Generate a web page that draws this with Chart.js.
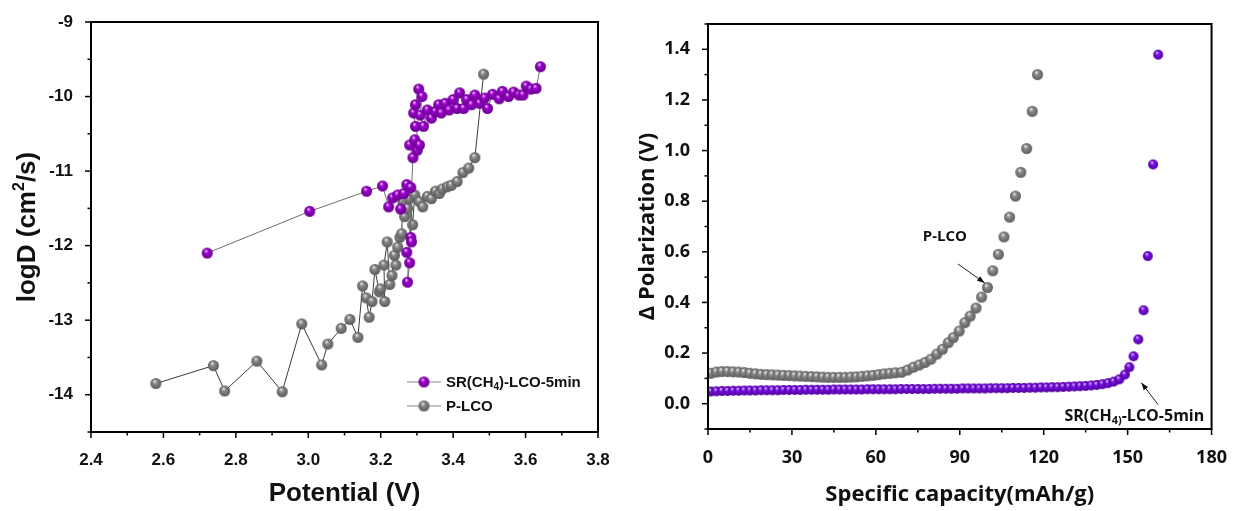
<!DOCTYPE html>
<html>
<head>
<meta charset="utf-8">
<script src="https://cdn.jsdelivr.net/npm/chart.js@4.4.0/dist/chart.umd.min.js"></script>
<style>
  body { margin: 0; background: #fff; width: 1237px; height: 511px; position: relative; overflow: hidden; }
  canvas { position: absolute; top: 0; }
  #diffChart { left: 0; }
  #polChart { left: 620px; }
</style>
</head>
<body>
<canvas id="diffChart" width="620" height="511"></canvas>
<canvas id="polChart" width="617" height="511"></canvas>
<script>
// ---- left panel: logD vs potential ----
var srPotential = [2.721, 3.004, 3.161, 3.205, 3.222, 3.233, 3.247, 3.255, 3.264, 3.272, 3.283,
    3.283, 3.285, 3.272, 3.280, 3.274, 3.289, 3.280, 3.294, 3.301, 3.307, 3.296, 3.291, 3.296,
    3.305, 3.314, 3.309, 3.318, 3.329, 3.340, 3.351, 3.360, 3.367, 3.378, 3.389, 3.400, 3.411,
    3.418, 3.429, 3.438, 3.451, 3.460, 3.473, 3.487, 3.495, 3.509, 3.527, 3.536, 3.553, 3.567,
    3.582, 3.593, 3.602, 3.615, 3.629, 3.641];
var srLogD = [-12.10, -11.54, -11.27, -11.20, -11.48, -11.36, -11.32, -11.51, -11.30, -11.18, -11.22,
    -11.89, -11.95, -12.09, -12.23, -12.49, -10.82, -10.65, -10.58, -10.72, -10.65, -10.40, -10.22, -10.11,
    -9.90, -10.00, -10.25, -10.40, -10.18, -10.29, -10.20, -10.11, -10.22, -10.09, -10.18, -10.04, -10.16,
    -9.95, -10.16, -10.04, -10.11, -9.98, -10.09, -10.02, -10.16, -9.97, -10.03, -9.93, -10.00, -9.94,
    -9.98, -9.98, -9.86, -9.90, -9.89, -9.60];

var plcoPotential = [2.579, 2.738, 2.769, 2.858, 2.928, 2.982, 3.037, 3.054, 3.091, 3.115, 3.137,
    3.150, 3.160, 3.168, 3.176, 3.184, 3.196, 3.200, 3.211, 3.209, 3.218, 3.225, 3.231, 3.238,
    3.242, 3.247, 3.253, 3.258, 3.261, 3.266, 3.274, 3.280, 3.288, 3.294, 3.307, 3.316, 3.329,
    3.340, 3.351, 3.362, 3.370, 3.384, 3.395, 3.411, 3.427, 3.443, 3.460, 3.484];
var plcoLogD = [-13.85, -13.61, -13.95, -13.55, -13.96, -13.05, -13.60, -13.32, -13.11, -12.99, -13.23,
    -12.54, -12.70, -12.96, -12.75, -12.32, -12.62, -12.58, -12.75, -12.26, -11.95, -12.52, -12.40, -12.13,
    -12.26, -12.02, -11.89, -11.84, -11.41, -11.61, -11.50, -11.37, -11.72, -11.32, -11.41, -11.48, -11.34,
    -11.37, -11.27, -11.30, -11.24, -11.21, -11.19, -11.14, -11.02, -10.96, -10.82, -9.70];

var potentialTicks = [2.4, 2.6, 2.8, 3.0, 3.2, 3.4, 3.6, 3.8];
var logDTicks = [-14, -13, -12, -11, -10, -9];

// ---- right panel: polarization vs capacity ----
var plcoCapacity = [1, 3, 5, 7, 9, 11, 13, 15, 17, 19, 21, 23, 25, 27, 29, 31, 33, 35, 37, 39,
    41, 43, 45, 47, 49, 51, 53, 55, 57, 59, 61, 63, 65, 67, 69.2, 71.3, 73.4, 75.5, 77.6, 79.7,
    81.8, 83.8, 85.9, 87.7, 89.8, 91.8, 93.7, 95.8, 97.8, 99.9, 101.8, 103.8, 105.8, 107.8,
    109.9, 111.8, 113.9, 115.9, 117.8];
var plcoPolarization = [0.120, 0.125, 0.127, 0.127, 0.126, 0.125, 0.123, 0.120, 0.118, 0.116,
    0.115, 0.114, 0.113, 0.112, 0.111, 0.110, 0.109, 0.108, 0.107, 0.106, 0.105, 0.104, 0.104,
    0.104, 0.104, 0.105, 0.106, 0.108, 0.110, 0.112, 0.115, 0.118, 0.120, 0.122, 0.124, 0.133,
    0.144, 0.153, 0.163, 0.176, 0.196, 0.215, 0.241, 0.261, 0.287, 0.320, 0.346, 0.378, 0.421,
    0.459, 0.525, 0.590, 0.659, 0.737, 0.820, 0.914, 1.008, 1.155, 1.300];

var srCapacity = [1, 3, 5, 7, 9, 11, 13, 15, 17, 19, 21, 23, 25, 27, 29, 31, 33, 35, 37, 39,
    41, 43, 45, 47, 49, 51, 53, 55, 57, 59, 61, 63, 65, 67, 69, 71, 73, 75, 77, 79, 81, 83, 85,
    87, 89, 91, 93, 95, 97, 99, 101, 103, 105, 107, 109, 111, 113, 115, 117, 119, 121, 123, 125,
    127, 129, 131, 133, 135, 137, 139, 141, 143, 145, 147, 149, 150.6, 152.1, 153.8, 155.7,
    157.2, 159.1, 160.9];
var srPolarization = [0.048, 0.049, 0.050, 0.050, 0.051, 0.051, 0.052, 0.052, 0.052, 0.053,
    0.053, 0.053, 0.053, 0.054, 0.054, 0.054, 0.054, 0.055, 0.055, 0.055, 0.055, 0.055, 0.056,
    0.056, 0.056, 0.056, 0.056, 0.056, 0.057, 0.057, 0.057, 0.057, 0.057, 0.057, 0.058, 0.058,
    0.058, 0.058, 0.058, 0.058, 0.059, 0.059, 0.059, 0.059, 0.059, 0.060, 0.060, 0.060, 0.060,
    0.060, 0.061, 0.061, 0.061, 0.061, 0.062, 0.062, 0.062, 0.063, 0.063, 0.064, 0.064, 0.065,
    0.065, 0.066, 0.067, 0.068, 0.069, 0.070, 0.072, 0.074, 0.077, 0.081, 0.087, 0.096, 0.115,
    0.144, 0.187, 0.254, 0.369, 0.583, 0.945, 1.379];

var capacityTicks = [0, 30, 60, 90, 120, 150, 180];
var polarizationTicks = [0.0, 0.2, 0.4, 0.6, 0.8, 1.0, 1.2, 1.4];

function pairs(xs, ys) {
    return xs.map(function (x, i) { return { x: x, y: ys[i] }; });
}

// shaded ball marker used as pointStyle
function sphere(base, light, dark, r) {
    var c = document.createElement('canvas');
    c.width = c.height = Math.ceil(r * 2) + 2;
    var g = c.getContext('2d');
    var m = c.width / 2;
    var grad = g.createRadialGradient(m - r * 0.25, m - r * 0.45, r * 0.05, m, m, r);
    grad.addColorStop(0, light);
    grad.addColorStop(0.35, base);
    grad.addColorStop(1, dark);
    g.fillStyle = grad;
    g.beginPath();
    g.arc(m, m, r, 0, Math.PI * 2);
    g.fill();
    return c;
}

var ballPurple = sphere('#9a00cc', '#f0c8ff', '#6a008e', 5.5);
var ballGray = sphere('#888888', '#eeeeee', '#5a5a5a', 5.5);
var ballViolet = sphere('#7a12e6', '#dcc4ff', '#4e0099', 5);
var ballGray2 = sphere('#8a8a8a', '#eeeeee', '#5e5e5e', 5.5);

function tickAxis(min, max, ticks, fmt, font, size, isY) {
    return {
        type: 'linear',
        min: min,
        max: max,
        afterBuildTicks: function (s) { s.ticks = ticks.map(function (v) { return { value: v }; }); },
        afterFit: function (s) { if (isY) s.width = size; else s.height = size; },
        grid: { display: false },
        border: { display: false },
        ticks: {
            color: '#111',
            font: font,
            padding: 10,
            maxRotation: 0,
            autoSkip: false,
            callback: function (v) { return fmt(v); }
        }
    };
}

// frame, outward major/minor ticks, axis titles, legend and notes
var decor = {
    id: 'decor',
    afterDraw: function (chart, args, o) {
        var ctx = chart.ctx, a = chart.chartArea;
        ctx.save();
        ctx.strokeStyle = '#000';
        ctx.lineWidth = 2;
        ctx.strokeRect(a.left, a.top, a.right - a.left, a.bottom - a.top);
        ctx.lineWidth = 1.5;
        [['x', o.xTicks], ['y', o.yTicks]].forEach(function (p) {
            var s = chart.scales[p[0]], major = p[1];
            var step = major[1] - major[0];
            var marks = major.map(function (v) { return [v, 6]; });
            for (var v = major[0] - step / 2; v <= s.max + 1e-9; v += step) {
                if (v >= s.min - 1e-9) marks.push([v, 3.5]);
            }
            marks.forEach(function (m) {
                var px = s.getPixelForValue(m[0]);
                ctx.beginPath();
                if (p[0] === 'x') { ctx.moveTo(px, a.bottom); ctx.lineTo(px, a.bottom + m[1]); }
                else { ctx.moveTo(a.left, px); ctx.lineTo(a.left - m[1], px); }
                ctx.stroke();
            });
        });
        ctx.fillStyle = '#111';
        ctx.textAlign = 'center';
        ctx.textBaseline = 'middle';
        ctx.font = o.titleFont;
        ctx.fillText(o.xTitle, (a.left + a.right) / 2, o.xTitleY);
        ctx.save();
        ctx.translate(o.yTitleX, (a.top + a.bottom) / 2);
        ctx.rotate(-Math.PI / 2);
        drawRich(ctx, o.yTitle, 0, 0, 'center');
        ctx.restore();
        if (o.extra) o.extra(chart, ctx, a);
        ctx.restore();
    }
};

// text made of runs: [text, font, dy]
function drawRich(ctx, runs, x, y, align) {
    var w = 0;
    runs.forEach(function (r) { ctx.font = r[1]; w += ctx.measureText(r[0]).width; });
    var cx = align === 'center' ? x - w / 2 : x;
    ctx.textAlign = 'left';
    runs.forEach(function (r) {
        ctx.font = r[1];
        ctx.fillText(r[0], cx, y + (r[2] || 0));
        cx += ctx.measureText(r[0]).width;
    });
}

function arrow(ctx, x1, y1, x2, y2) {
    var ang = Math.atan2(y2 - y1, x2 - x1);
    ctx.strokeStyle = '#222';
    ctx.lineWidth = 1;
    ctx.beginPath();
    ctx.moveTo(x1, y1);
    ctx.lineTo(x2, y2);
    ctx.stroke();
    ctx.fillStyle = '#111';
    ctx.beginPath();
    ctx.moveTo(x2, y2);
    ctx.lineTo(x2 - 8 * Math.cos(ang - 0.35), y2 - 8 * Math.sin(ang - 0.35));
    ctx.lineTo(x2 - 8 * Math.cos(ang + 0.35), y2 - 8 * Math.sin(ang + 0.35));
    ctx.closePath();
    ctx.fill();
}

var arial = 'Liberation Sans, Arial, sans-serif';
var open = '"Open Sans", "Noto Sans", sans-serif';

new Chart(document.getElementById('diffChart'), {
    type: 'scatter',
    data: {
        datasets: [{
            label: 'SR(CH4)-LCO-5min',
            data: pairs(srPotential, srLogD),
            showLine: true,
            borderColor: '#6e6e6e',
            borderWidth: 1,
            pointStyle: ballPurple,
            pointRadius: 5.5
        }, {
            label: 'P-LCO',
            data: pairs(plcoPotential, plcoLogD),
            showLine: true,
            borderColor: '#3a3a3a',
            borderWidth: 1,
            pointStyle: ballGray,
            pointRadius: 5.5
        }]
    },
    options: {
        responsive: false,
        animation: false,
        layout: { padding: { top: 22, right: 22, left: 0, bottom: 0 } },
        plugins: {
            legend: { display: false },
            tooltip: { enabled: false },
            decor: {
                xTicks: potentialTicks,
                yTicks: logDTicks,
                titleFont: 'bold 26px ' + arial,
                xTitle: 'Potential (V)',
                xTitleY: 494,
                yTitleX: 28,
                yTitle: [['logD (cm', 'bold 26px ' + arial, 0], ['2', 'bold 16px ' + arial, -8], ['/s)', 'bold 26px ' + arial, 0]],
                extra: function (chart, ctx, a) {
                    var items = [[ballPurple, [['SR(CH', 'bold 15px ' + arial], ['4', 'bold 10px ' + arial, 4], [')-LCO-5min', 'bold 15px ' + arial]]],
                                 [ballGray, [['P-LCO', 'bold 15px ' + arial]]]];
                    items.forEach(function (it, i) {
                        var y = a.bottom - 50 + i * 24;
                        var x0 = a.left + 316;
                        ctx.strokeStyle = '#888';
                        ctx.lineWidth = 1;
                        ctx.beginPath();
                        ctx.moveTo(x0, y);
                        ctx.lineTo(x0 + 34, y);
                        ctx.stroke();
                        ctx.drawImage(it[0], x0 + 17 - it[0].width / 2, y - it[0].height / 2);
                        ctx.fillStyle = '#111';
                        ctx.textBaseline = 'middle';
                        drawRich(ctx, it[1], x0 + 39, y + 1, 'left');
                    });
                }
            }
        },
        scales: {
            x: tickAxis(2.4, 3.8, potentialTicks, function (v) { return v.toFixed(1); }, { family: arial, size: 17, weight: 'bold' }, 79, false),
            y: tickAxis(-14.5, -9, logDTicks, function (v) { return String(v); }, { family: arial, size: 17, weight: 'bold' }, 91, true)
        }
    },
    plugins: [decor]
});

new Chart(document.getElementById('polChart'), {
    type: 'scatter',
    data: {
        datasets: [{
            label: 'P-LCO',
            data: pairs(plcoCapacity, plcoPolarization),
            pointStyle: ballGray2,
            pointRadius: 5.5
        }, {
            label: 'SR(CH4)-LCO-5min',
            data: pairs(srCapacity, srPolarization),
            pointStyle: ballViolet,
            pointRadius: 5
        }]
    },
    options: {
        responsive: false,
        animation: false,
        layout: { padding: { top: 24, right: 21, left: 0, bottom: 0 } },
        plugins: {
            legend: { display: false },
            tooltip: { enabled: false },
            decor: {
                xTicks: capacityTicks,
                yTicks: polarizationTicks,
                titleFont: 'bold 22px ' + open,
                xTitle: 'Specific capacity(mAh/g)',
                xTitleY: 495,
                yTitleX: 28,
                yTitle: [['\u0394 Polarization (V)', 'bold 22px ' + open, 0]],
                extra: function (chart, ctx, a) {
                    var sx = chart.scales.x, sy = chart.scales.y;
                    ctx.fillStyle = '#111';
                    ctx.textBaseline = 'middle';
                    ctx.font = 'bold 15px ' + open;
                    ctx.textAlign = 'center';
                    ctx.fillText('P-LCO', sx.getPixelForValue(84.7), sy.getPixelForValue(0.659));
                    arrow(ctx, sx.getPixelForValue(89.3), sy.getPixelForValue(0.552), sx.getPixelForValue(98.9), sy.getPixelForValue(0.477));
                    ctx.fillStyle = '#111';
                    drawRich(ctx, [['SR(CH', 'bold 16px ' + open], ['4)', 'bold 11px ' + open, 4], ['-LCO-5min', 'bold 16px ' + open]],
                        sx.getPixelForValue(152.4), sy.getPixelForValue(-0.051), 'center');
                    arrow(ctx, sx.getPixelForValue(160.9), sy.getPixelForValue(-0.004), sx.getPixelForValue(154.9), sy.getPixelForValue(0.083));
                }
            }
        },
        scales: {
            x: tickAxis(0, 180, capacityTicks, function (v) { return String(v); }, { family: open, size: 18, weight: 'bold' }, 82, false),
            y: tickAxis(-0.1, 1.5, polarizationTicks, function (v) { return v.toFixed(1); }, { family: open, size: 18, weight: 'bold' }, 88, true)
        }
    },
    plugins: [decor]
});
</script>
</body>
</html>
